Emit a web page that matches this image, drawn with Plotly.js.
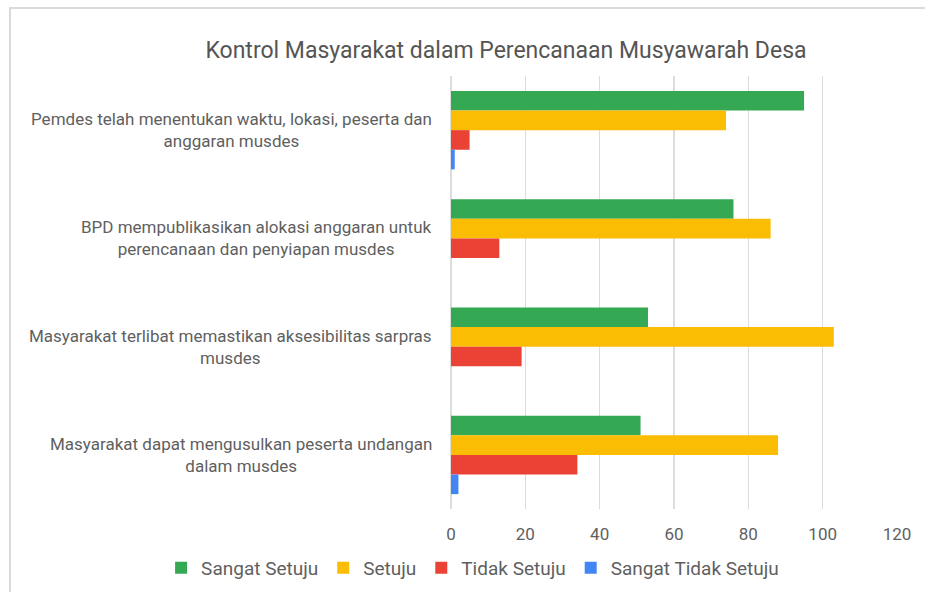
<!DOCTYPE html>
<html>
<head>
<meta charset="utf-8">
<script src="https://cdn.plot.ly/plotly-3.0.1.min.js"></script>
<style>
  html, body { margin: 0; padding: 0; background: #fff; }
  #wrap { position: relative; width: 925px; height: 592px; overflow: hidden; }
  #chart { position: absolute; left: 0; top: 0; width: 925px; height: 592px; }
  #frame { position: absolute; left: 9px; top: 7px; width: 940px; height: 620px;
           border-left: 2px solid #dadada; border-top: 2px solid #dadada; pointer-events: none; }
</style>
</head>
<body>
<div id="wrap">
  <div id="chart"></div>
  <div id="frame"></div>
</div>
<script>
const chartTitle = "Kontrol Masyarakat dalam Perencanaan Musyawarah Desa";
const categories = [
  "Pemdes telah menentukan waktu, lokasi, peserta dan<br>anggaran musdes",
  "BPD mempublikasikan alokasi anggaran untuk<br>perencanaan dan penyiapan musdes",
  "Masyarakat terlibat memastikan aksesibilitas sarpras<br>musdes",
  "Masyarakat dapat mengusulkan peserta undangan<br>dalam musdes"
];
const seriesNames = ["Sangat Setuju", "Setuju", "Tidak Setuju", "Sangat Tidak Setuju"];
const sangatSetuju = [95, 76, 53, 51];
const setuju = [74, 86, 103, 88];
const tidakSetuju = [5, 13, 19, 34];
const sangatTidakSetuju = [1, 0, 0, 2];
const xTicks = [0, 20, 40, 60, 80, 100, 120];

const seriesValues = [sangatSetuju, setuju, tidakSetuju, sangatTidakSetuju];
const colors = ["#34A853", "#FBBC04", "#EA4335", "#4285F4"];
const catIds = categories.map((c, i) => "c" + i);
const FONT = "Roboto, Arial, sans-serif";
const TXT = "#5f5f5f";

const traces = seriesNames.map((name, i) => ({
  type: "bar",
  orientation: "h",
  name: name,
  x: seriesValues[i],
  y: catIds,
  marker: { color: colors[i], line: { width: 0 } },
  hoverinfo: "x+name"
}));

const annotations = categories.map((c, i) => ({
  xref: "paper", yref: "y",
  x: -0.038, y: catIds[i],
  xanchor: "right", yanchor: "middle",
  align: "center",
  text: c,
  showarrow: false,
  font: { family: FONT, size: 17, color: TXT }
}));

const layout = {
  width: 925, height: 592,
  paper_bgcolor: "#ffffff", plot_bgcolor: "#ffffff",
  margin: { l: 451, r: 27.5, t: 76, b: 83, autoexpand: false },
  font: { family: FONT, size: 17, color: TXT },
  title: {
    text: chartTitle,
    x: 0.547, xref: "container", xanchor: "center",
    y: 0.915, yref: "container", yanchor: "middle",
    font: { family: FONT, size: 23, color: "#555555" }
  },
  barmode: "group",
  bargap: 0.275,
  bargroupgap: 0,
  xaxis: {
    range: [0, 120],
    tickvals: xTicks,
    ticktext: xTicks.map(String),
    showgrid: true, gridcolor: "#dcdcdc", gridwidth: 1.5,
    zeroline: true, zerolinecolor: "#dcdcdc", zerolinewidth: 1.5,
    showline: false,
    ticks: "outside", ticklen: 10, tickcolor: "rgba(0,0,0,0)",
    tickfont: { family: FONT, size: 17, color: TXT },
    fixedrange: true
  },
  yaxis: {
    type: "category",
    categoryorder: "array", categoryarray: catIds,
    autorange: "reversed",
    showticklabels: false, showgrid: false, zeroline: false, showline: false, ticks: "",
    fixedrange: true
  },
  legend: {
    orientation: "h",
    x: -0.65, xref: "paper", xanchor: "left",
    y: -0.136, yanchor: "middle",
    font: { family: FONT, size: 19, color: TXT },
    itemwidth: 30,
    traceorder: "normal"
  },
  annotations: annotations,
  showlegend: true
};

Plotly.newPlot("chart", traces, layout, { displayModeBar: false, staticPlot: true });
</script>
</body>
</html>
